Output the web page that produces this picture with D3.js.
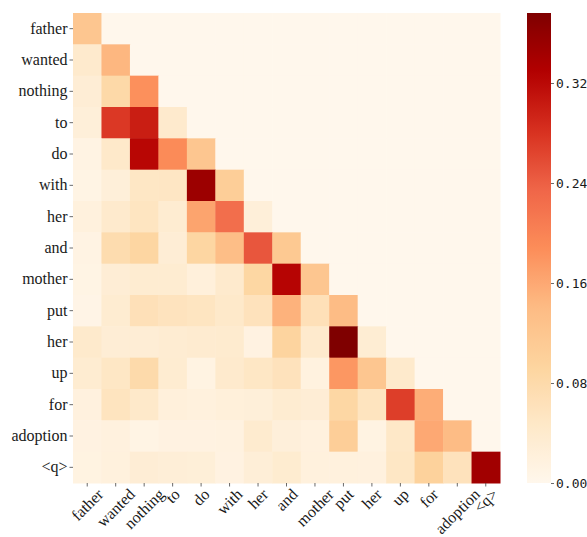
<!DOCTYPE html>
<html>
<head>
<meta charset="utf-8">
<script src="https://cdn.jsdelivr.net/npm/d3@7"></script>
<style>
body { margin: 0; background: #fff; }
</style>
</head>
<body>
<svg id="chart" width="587" height="537"></svg>
<script>
var tokens = ['father','wanted','nothing','to','do','with','her','and','mother','put','her','up','for','adoption','<q>']

// lower triangle of the attention map, row i holds columns 0..i
var attention = [
	[0.120],
	[0.040, 0.145],
	[0.030, 0.083, 0.185],
	[0.025, 0.275, 0.300, 0.040],
	[0.012, 0.045, 0.323, 0.190, 0.120],
	[0.010, 0.025, 0.050, 0.052, 0.350, 0.105],
	[0.020, 0.040, 0.055, 0.035, 0.165, 0.225, 0.025],
	[0.012, 0.075, 0.090, 0.030, 0.090, 0.135, 0.248, 0.115],
	[0.010, 0.030, 0.035, 0.035, 0.022, 0.040, 0.088, 0.325, 0.120],
	[0.008, 0.035, 0.065, 0.058, 0.055, 0.045, 0.060, 0.150, 0.065, 0.140],
	[0.042, 0.030, 0.030, 0.034, 0.037, 0.038, 0.015, 0.093, 0.040, 0.376, 0.032],
	[0.035, 0.050, 0.080, 0.035, 0.013, 0.040, 0.050, 0.060, 0.017, 0.178, 0.120, 0.042],
	[0.018, 0.057, 0.045, 0.022, 0.020, 0.023, 0.025, 0.035, 0.030, 0.087, 0.057, 0.270, 0.155],
	[0.015, 0.018, 0.010, 0.015, 0.015, 0.016, 0.038, 0.024, 0.018, 0.105, 0.013, 0.047, 0.160, 0.140],
	[0.014, 0.020, 0.030, 0.028, 0.026, 0.015, 0.027, 0.036, 0.020, 0.020, 0.018, 0.050, 0.098, 0.060, 0.345]
]

var cbTicks = [0, 0.08, 0.16, 0.24, 0.32]
var vmax = 0.376
var orrd = ['#fff7ec','#fee8c8','#fdd49e','#fdbb84','#fc8d59','#ef6548','#d7301f','#b30000','#7f0000']

var svg = d3.select('#chart')

var x = d3.scaleBand().domain(d3.range(tokens.length)).range([73,500])
var y = d3.scaleBand().domain(d3.range(tokens.length)).range([13,483])
var color = d3.scaleLinear()
	.domain(orrd.map((c,i)=>i*vmax/(orrd.length-1)))
	.range(orrd).clamp(true)

var cells = []
tokens.forEach((r,ri)=>{
	tokens.forEach((c,ci)=>{
		var v = ci<=ri ? attention[ri][ci] : 0
		cells.push({r:ri, c:ci, v:v})
	})
})

svg.append('g').attr('id','cells')
	.selectAll('rect').data(cells).join('rect')
	.attr('x',d=>x(d.c))
	.attr('y',d=>y(d.r))
	.attr('width',x.bandwidth()+0.5)
	.attr('height',y.bandwidth()+0.5)
	.attr('fill',d=>color(d.v))

var yAxis = svg.append('g')
	.attr('transform','translate(73,0)')
	.call(d3.axisLeft(y).tickSize(3.5).tickPadding(2).tickFormat(i=>tokens[i]))
yAxis.select('.domain').remove()
yAxis.selectAll('line').attr('stroke','#444').attr('stroke-width',0.8)
yAxis.selectAll('text')
	.style('font-family','"Liberation Serif", "Times New Roman", serif')
	.style('font-size','16px').attr('fill','#1a1a1a')

var xAxis = svg.append('g')
	.attr('transform','translate(0,483)')
	.call(d3.axisBottom(x).tickSize(3.5).tickFormat(i=>tokens[i]))
xAxis.select('.domain').remove()
xAxis.selectAll('line').attr('stroke','#444').attr('stroke-width',0.8)
xAxis.selectAll('text')
	.style('font-family','"Liberation Serif", "Times New Roman", serif')
	.style('font-size','16px').attr('fill','#1a1a1a')
	.attr('text-anchor','middle')
	.attr('dominant-baseline','central')
	.attr('dy',0)
	.each(function(){
		var w = this.getComputedTextLength()
		var half = (w+10)*Math.SQRT1_2/2
		d3.select(this).attr('y',0).attr('x',0)
			.attr('transform',`translate(0,${5+half}) rotate(-45)`)
	})

// colorbar
var cbY = d3.scaleLinear().domain([0,vmax]).range([483,13])
var grad = svg.append('defs').append('linearGradient')
	.attr('id','cbgrad').attr('x1',0).attr('y1',1).attr('x2',0).attr('y2',0)
grad.selectAll('stop').data(d3.range(0,1.0001,0.02)).join('stop')
	.attr('offset',d=>d)
	.attr('stop-color',d=>color(d*vmax))

svg.append('rect')
	.attr('x',527).attr('y',13)
	.attr('width',24).attr('height',470)
	.attr('fill','url(#cbgrad)')

var cbAxis = svg.append('g')
	.attr('transform','translate(551,0)')
	.call(d3.axisRight(cbY).tickValues(cbTicks).tickSize(3).tickPadding(2).tickFormat(d3.format('.2f')))
cbAxis.select('.domain').remove()
cbAxis.selectAll('line').attr('stroke','#444').attr('stroke-width',0.8)
cbAxis.selectAll('text')
	.style('font-family','"DejaVu Sans Mono", monospace')
	.style('font-size','13px').attr('fill','#1a1a1a')
</script>
</body>
</html>
